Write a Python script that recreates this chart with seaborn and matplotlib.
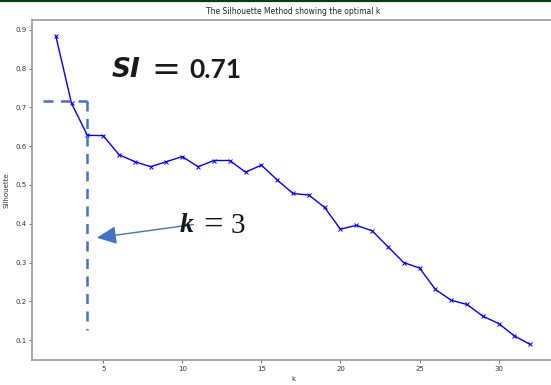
import matplotlib
matplotlib.use("Agg")
import matplotlib.pyplot as plt
import seaborn as sns
import pandas as pd
from matplotlib.lines import Line2D

k_values = list(range(2, 33))
silhouette = [0.885, 0.710, 0.628, 0.627, 0.578, 0.560, 0.547, 0.560, 0.573, 0.547,
              0.563, 0.563, 0.533, 0.551, 0.513, 0.478, 0.474, 0.442, 0.386, 0.396,
              0.382, 0.341, 0.300, 0.286, 0.231, 0.203, 0.192, 0.162, 0.143, 0.111, 0.089]
x_ticks = [5, 10, 15, 20, 25, 30]
y_ticks = [0.1, 0.2, 0.3, 0.4, 0.5, 0.6, 0.7, 0.8, 0.9]
title = "The Silhouette Method showing the optimal k"
best_k = 4
best_si = 0.717

df = pd.DataFrame({"k": k_values, "Silhouette": silhouette})

sns.set_style("white")
plt.rcParams["font.family"] = ["DejaVu Sans"]

W, H = 551, 385
fig = plt.figure(figsize=(W / 100, H / 100), dpi=100)
ax = fig.add_axes([32 / W, (H - 360) / H, (554 - 32) / W, (360 - 20) / H])

sns.lineplot(data=df, x="k", y="Silhouette", ax=ax, color="blue", lw=1.0,
             marker="x", markersize=3.2, markeredgecolor="blue", markeredgewidth=0.7)

ax.set_xlim(0.5, 33.5)
ax.set_ylim(0.049, 0.925)
ax.set_xticks(x_ticks)
ax.set_yticks(y_ticks)
ax.set_xticklabels([str(t) for t in x_ticks])
ax.set_yticklabels([f"{t:.1f}" for t in y_ticks])
ax.tick_params(axis="both", labelsize=5, length=2.5, width=0.6, color="#555555",
               labelcolor="#333333", pad=1.5, direction="out")
ax.xaxis.set_ticks_position("bottom")
ax.yaxis.set_ticks_position("left")
for s in ["left", "bottom", "top", "right"]:
    ax.spines[s].set_color("#999999")
    ax.spines[s].set_linewidth(1.2)

ax.set_title(title, fontsize=5.5, color="#222222", pad=4)
ax.set_xlabel("k", fontsize=5, color="#333333", labelpad=3)
ax.set_ylabel("Silhouette", fontsize=5, color="#333333", labelpad=4)

# annotation lines (dashed guides)
guide = "#4472C4"
ax.plot([1.18, best_k], [best_si, best_si], color=guide, lw=1.8, ls=(0, (4, 3)))
ax.plot([best_k, best_k], [best_si, 0.126], color=guide, lw=1.8, ls=(0, (4, 3)))

# arrow
ax.annotate("", xy=(4.6, 0.364), xytext=(10.7, 0.398),
            arrowprops=dict(arrowstyle="-|>,head_length=1.2,head_width=0.55",
                            color=guide, lw=1.0, shrinkA=0, shrinkB=0))

# SI text
fig.text(112 / W, 1 - 70 / H, "SI", fontsize=19, family="DejaVu Sans",
         style="italic", weight="bold", va="center", ha="left", color="#1a1a1a")
fig.text(151 / W, 1 - 70 / H, "=", fontsize=25, family="DejaVu Sans",
         va="center", ha="left", color="#1a1a1a")
fig.text(189 / W, 1 - 70 / H, "0.71", fontsize=19, family="Lato",
         weight="bold", va="center", ha="left", color="#1a1a1a")

# k = 3 text
fig.text(180 / W, 1 - 226 / H, "k", fontsize=20, family="Liberation Serif",
         style="italic", weight="bold", va="center", ha="left", color="#1a1a1a")
fig.text(203 / W, 1 - 226 / H, "=", fontsize=25, family="Liberation Serif",
         va="center", ha="left", color="#111111")
fig.text(231 / W, 1 - 226 / H, "3", fontsize=21, family="Liberation Serif",
         va="center", ha="left", color="#111111")

# top border
fig.add_artist(Line2D([0, 1], [1 - 0.8 / H, 1 - 0.8 / H], transform=fig.transFigure,
                      color="#0b3d0b", lw=1.6))

fig.savefig("out.png", dpi=100)
